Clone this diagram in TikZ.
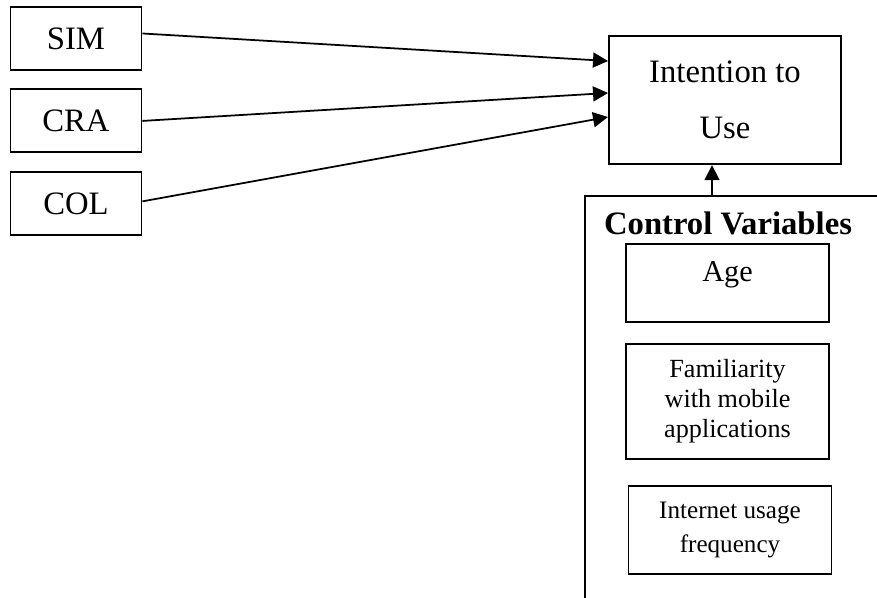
\documentclass[tikz,border=0pt]{standalone}
\usepackage{fontspec}
\setmainfont{Liberation Serif}
\usepackage{tikz}
\usetikzlibrary{arrows.meta,positioning}

\begin{document}
\begin{tikzpicture}[
  varbox/.style={draw, line width=1.1pt, minimum width=2.62cm, minimum height=1.26cm, font=\fontsize{18.6}{22}\selectfont},
  ctrlbox/.style={draw, line width=1.1pt, minimum width=4.06cm, align=center},
  arr/.style={line width=1pt, -{Triangle[length=0.3cm,width=0.3cm]}}
]
\useasboundingbox (0,0) rectangle (17.54,11.96);

% Variables independientes
\node[varbox] (sim) at (1.52,11.19) {SIM};
\node[varbox, below=0.35cm of sim] (cra) {CRA};
\node[varbox, below=0.36cm of cra] (col) {COL};

% Variable dependiente
\node[draw, line width=1.1pt, minimum width=4.64cm, minimum height=2.57cm, align=center, font=\fontsize{18.6}{32}\selectfont] (use) at (14.5,9.96) {Intention to\\Use};

% Flechas hacia la intención de uso
\draw[arr] ([yshift=0.1cm]sim.east) -- ([yshift=0.78cm]use.west);
\draw[arr] (cra.east) -- ([yshift=0.14cm]use.west);
\draw[arr] ([yshift=0.05cm]col.east) -- ([yshift=-0.34cm]use.west);

% Marco de variables de control (abierto a la derecha y abajo)
\draw[line width=1pt] (11.7,0) |- (17.54,8.04);
\coordinate (cvtop) at (14.24,8.04);
\node[font=\bfseries\fontsize{18.6}{22}\selectfont, anchor=base] (cv) at (14.56,7.26) {Control Variables};

% Variables de control
\node[ctrlbox, minimum height=1.56cm, text depth=0.45cm, font=\fontsize{17.2}{20}\selectfont] (age) at (14.55,6.3) {Age};
\node[ctrlbox, minimum height=2.29cm, font=\fontsize{14.9}{17}\selectfont] (fam) at (14.55,3.93) {Familiarity\\with mobile\\applications};
\node[ctrlbox, minimum height=1.76cm, font=\fontsize{14.3}{19.4}\selectfont] (inet) at (14.6,1.36) {Internet usage\\frequency};

% Flecha de control
\draw[arr] (cvtop) -- ([xshift=-0.26cm]use.south);
\end{tikzpicture}
\end{document}
